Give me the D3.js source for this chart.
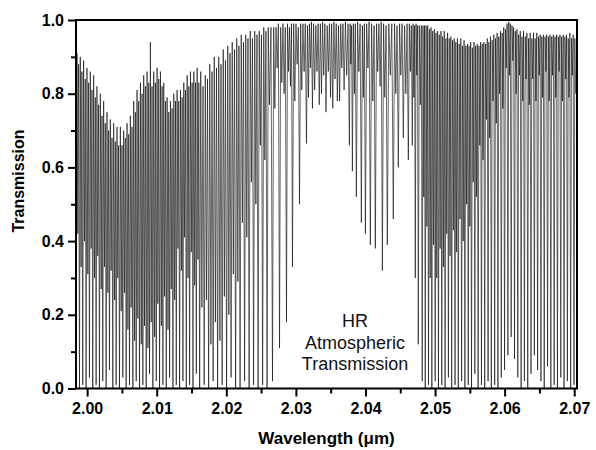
<!DOCTYPE html>
<html><head><meta charset="utf-8">
<script src="https://cdn.jsdelivr.net/npm/d3@7"></script>
<style>body{margin:0;background:#fff}</style>
</head><body><svg id="c" width="596" height="450"></svg>
<script>
// Absorption line centres (µm)
const lineWl = [
1.99842,1.99866,1.99890,1.99913,1.99937,1.99962,1.99985,2.00010,2.00033,2.00058,
2.00081,2.00106,2.00129,2.00153,2.00177,2.00202,2.00225,2.00249,2.00273,2.00298,
2.00321,2.00345,2.00369,2.00394,2.00417,2.00441,2.00465,2.00490,2.00513,2.00537,
2.00561,2.00586,2.00609,2.00633,2.00657,2.00682,2.00705,2.00729,2.00753,2.00778,
2.00801,2.00825,2.00849,2.00874,2.00897,2.00921,2.00945,2.00970,2.00993,2.01017,
2.01041,2.01066,2.01089,2.01113,2.01137,2.01162,2.01185,2.01209,2.01233,2.01258,
2.01281,2.01305,2.01329,2.01354,2.01377,2.01401,2.01425,2.01450,2.01473,2.01497,
2.01521,2.01546,2.01569,2.01593,2.01617,2.01649,2.01682,2.01714,2.01746,2.01779,
2.01811,2.01843,2.01875,2.01908,2.01940,2.01972,2.02004,2.02037,2.02069,2.02101,
2.02134,2.02166,2.02198,2.02231,2.02263,2.02295,2.02328,2.02360,2.02392,2.02425,
2.02457,2.02489,2.02522,2.02554,2.02586,2.02620,2.02664,2.02698,2.02731,2.02765,
2.02798,2.02831,2.02865,2.02894,2.02922,2.02951,2.02985,2.03018,2.03052,2.03085,
2.03118,2.03152,2.03181,2.03209,2.03238,2.03270,2.03303,2.03336,2.03368,2.03400,
2.03433,2.03466,2.03498,2.03530,2.03563,2.03596,2.03628,2.03660,2.03693,2.03730,
2.03769,2.03790,2.03812,2.03840,2.03869,2.03905,2.03941,2.03970,2.03999,2.04035,
2.04070,2.04106,2.04142,2.04176,2.04210,2.04243,2.04278,2.04314,2.04357,2.04400,
2.04436,2.04472,2.04508,2.04544,2.04580,2.04616,2.04645,2.04673,2.04695,2.04716,
2.04738,2.04759,2.04788,2.04816,2.04838,2.04859,2.04883,2.04906,2.04930,2.04954,
2.04978,2.05002,2.05025,2.05049,2.05073,2.05097,2.05120,2.05144,2.05168,2.05192,
2.05215,2.05239,2.05263,2.05287,2.05310,2.05334,2.05358,2.05382,2.05405,2.05429,
2.05453,2.05477,2.05500,2.05524,2.05548,2.05572,2.05595,2.05619,2.05643,2.05667,
2.05690,2.05714,2.05738,2.05762,2.05785,2.05809,2.05833,2.05857,2.05880,2.05904,
2.05928,2.05952,2.05975,2.05999,2.06023,2.06047,2.06070,2.06094,2.06118,2.06142,
2.06165,2.06189,2.06213,2.06237,2.06260,2.06284,2.06308,2.06332,2.06355,2.06379,
2.06403,2.06427,2.06450,2.06474,2.06498,2.06522,2.06545,2.06569,2.06593,2.06617,
2.06640,2.06664,2.06688,2.06712,2.06735,2.06759,2.06783,2.06807,2.06830,2.06854,
2.06878,2.06902,2.06925,2.06949,2.06973,2.06997,2.07020
];
// Transmission at each line core
const lineMin = [
.02,.42,.00,.33,.01,.40,.00,.31,.03,.38,
.00,.30,.01,.36,.00,.27,.02,.33,.00,.26,
.05,.32,.00,.24,.01,.30,.00,.21,.03,.26,
.00,.16,.01,.22,.00,.13,.02,.19,.00,.12,
.01,.17,.00,.11,.04,.18,.00,.14,.02,.23,
.00,.17,.01,.25,.00,.16,.03,.27,.00,.24,
.01,.38,.00,.32,.02,.41,.00,.30,.01,.37,
.00,.28,.04,.35,.00,.22,.01,.24,.00,.12,
.02,.18,.00,.13,.01,.25,.00,.20,.03,.31,
.00,.29,.00,.45,.02,.41,.00,.56,.01,.50,
.00,.66,.01,.62,.00,.77,.02,.76,.87,.11,
.83,.80,.18,.86,.82,.33,.78,.88,.50,.81,
.86,.665,.79,.87,.76,.81,.86,.77,.80,.85,
.75,.86,.79,.76,.84,.78,.78,.87,.81,.85,
.66,.88,.59,.80,.52,.86,.45,.79,.42,.87,
.39,.78,.38,.86,.82,.32,.79,.39,.85,.46,
.80,.60,.85,.68,.80,.62,.86,.66,.79,.30,
.85,.12,.77,.02,.52,.00,.44,.01,.30,.00,
.39,.02,.30,.00,.38,.01,.33,.00,.42,.03,
.36,.00,.43,.01,.37,.00,.46,.02,.40,.00,
.50,.01,.44,.00,.56,.04,.52,.00,.66,.01,
.62,.00,.73,.02,.68,.00,.78,.01,.72,.00,
.80,.03,.76,.05,.87,.09,.85,.14,.89,.08,
.80,.03,.85,.00,.78,.02,.84,.00,.77,.04,
.84,.09,.78,.05,.85,.02,.79,.00,.86,.06,
.78,.00,.85,.01,.79,.00,.86,.03,.78,.00,
.84,.02,.79,.00,.85,.01,.80
];
// Transmission maximum following each line
const peakT = [
.91,.88,.90,.86,.89,.84,.87,.83,.86,.81,
.85,.79,.82,.77,.80,.74,.78,.72,.75,.70,
.73,.68,.72,.67,.71,.66,.71,.66,.70,.68,
.72,.69,.74,.71,.78,.75,.81,.78,.83,.80,
.85,.82,.86,.83,.94,.82,.86,.83,.87,.84,
.86,.82,.83,.78,.79,.75,.78,.76,.80,.78,
.81,.78,.81,.79,.83,.81,.85,.82,.86,.83,
.86,.83,.87,.83,.86,.82,.85,.84,.88,.86,
.90,.87,.90,.88,.92,.89,.93,.91,.94,.92,
.95,.93,.96,.94,.96,.95,.97,.95,.97,.96,
.97,.96,.98,.97,.98,.98,.98,.98,.99,.98,
.99,.98,.99,.98,.99,.99,.99,.98,.99,.99,
.99,.985,.99,.995,.99,.985,.99,.99,.995,.99,
.985,.99,.99,.995,.99,.985,.99,.99,.995,.99,
.99,.985,.99,.99,.995,.99,.985,.99,.99,.995,
.99,.985,.99,.99,.995,.99,.985,.99,.99,.99,
.985,.99,.99,.985,.99,.99,.985,.99,.985,.99,
.985,.985,.985,.985,.985,.985,.985,.975,.98,.97,
.975,.965,.97,.96,.97,.955,.97,.95,.965,.95,
.955,.945,.95,.94,.95,.935,.95,.93,.945,.93,
.935,.93,.94,.925,.94,.93,.935,.93,.94,.935,
.94,.935,.95,.94,.955,.945,.96,.95,.965,.955,
.97,.965,.98,.975,.99,.995,.99,.985,.98,.97,
.975,.96,.97,.955,.97,.955,.965,.95,.965,.95,
.965,.95,.965,.955,.96,.955,.96,.955,.96,.955,
.96,.955,.96,.955,.96,.955,.96,.955,.96,.955,
.96,.95,.965,.95,.96,.95,.95
];
const xTicks = [2.00,2.01,2.02,2.03,2.04,2.05,2.06,2.07];
const xMinor = [2.005,2.015,2.025,2.035,2.045,2.055,2.065];
const yTicks = [0.0,0.2,0.4,0.6,0.8,1.0];
const yMinor = [0.1,0.3,0.5,0.7,0.9];
const xTitle = "Wavelength (\u03bcm)";
const yTitle = "Transmission";
const note = ["HR","Atmospheric","Transmission"];

const svg = d3.select("#c");
const L = 76, R = 577, T = 20, B = 388.5;
const x = d3.scaleLinear().domain([1.9984, 2.0704]).range([L, R]);
const y = d3.scaleLinear().domain([0, 1]).range([B, T]);

const pts = [];
lineWl.forEach((w, i) => {
  pts.push([w, lineMin[i]]);
  if (i < lineWl.length - 1) pts.push([(w + lineWl[i + 1]) / 2, peakT[i]]);
});

svg.append("clipPath").attr("id", "clip").append("rect")
  .attr("x", L).attr("y", T).attr("width", R - L).attr("height", B - T);

svg.append("path").datum(pts)
  .attr("clip-path", "url(#clip)")
  .attr("fill", "none").attr("stroke", "#000").attr("stroke-width", 0.6)
  .attr("d", d3.line().x(d => x(d[0])).y(d => y(d[1])));

const font = "'Liberation Sans', Arial, sans-serif";

function styleAxis(g) {
  g.select(".domain").remove();
  g.selectAll(".tick line").attr("stroke", "#000").attr("stroke-width", 2);
  g.selectAll("text").attr("font-family", font).attr("font-weight", "bold")
    .attr("font-size", 16).attr("fill", "#000");
}

svg.append("g").attr("transform", `translate(0,${B})`)
  .call(d3.axisBottom(x).tickValues(xMinor).tickSize(5).tickFormat(""))
  .call(styleAxis);
svg.append("g").attr("transform", `translate(0,${B})`)
  .call(d3.axisBottom(x).tickValues(xTicks).tickSize(8).tickPadding(6).tickFormat(d3.format(".2f")))
  .call(styleAxis);
svg.append("g").attr("transform", `translate(${L},0)`)
  .call(d3.axisLeft(y).tickValues(yMinor).tickSize(5).tickFormat(""))
  .call(styleAxis);
svg.append("g").attr("transform", `translate(${L},0)`)
  .call(d3.axisLeft(y).tickValues(yTicks).tickSize(8).tickPadding(4).tickFormat(d3.format(".1f")))
  .call(styleAxis);

svg.append("rect").attr("x", L).attr("y", T).attr("width", R - L).attr("height", B - T)
  .attr("fill", "none").attr("stroke", "#000").attr("stroke-width", 2);

svg.append("text").attr("x", (L + R) / 2).attr("y", 444).attr("text-anchor", "middle")
  .attr("font-family", font).attr("font-weight", "bold").attr("font-size", 17).text(xTitle);
svg.append("text").attr("transform", "translate(24,181) rotate(-90)").attr("text-anchor", "middle")
  .attr("font-family", font).attr("font-weight", "bold").attr("font-size", 16).text(yTitle);

svg.append("g").selectAll("text").data(note).join("text")
  .attr("x", 355).attr("y", (d, i) => 327 + i * 21.5).attr("text-anchor", "middle")
  .attr("font-family", font).attr("font-size", 18).attr("fill", "#111").text(d => d);
</script>
</body></html>
